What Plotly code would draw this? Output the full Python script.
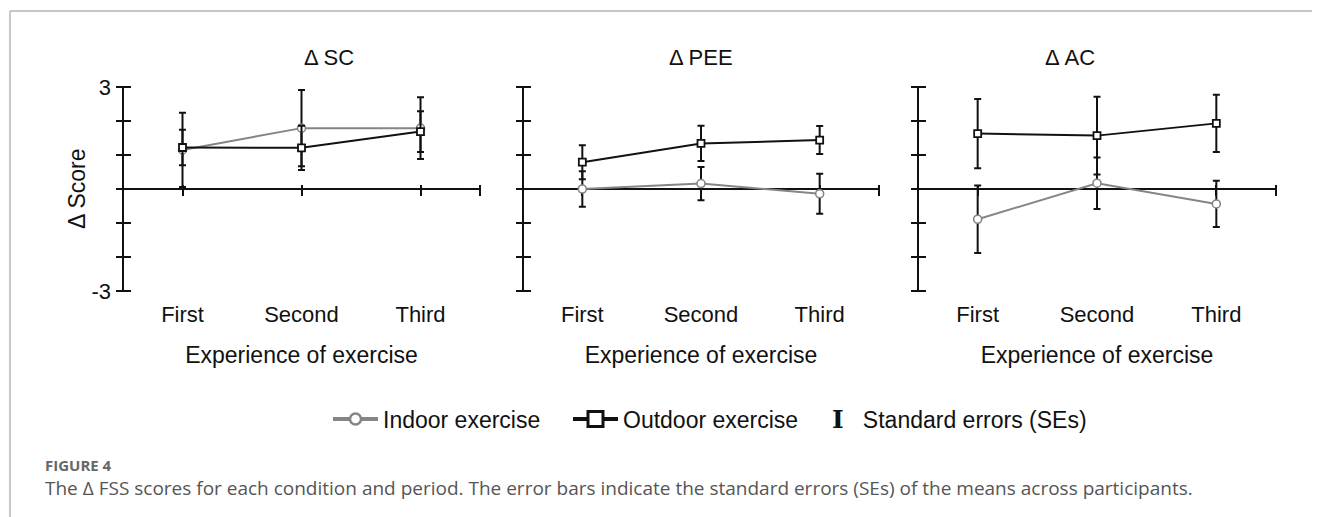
import plotly.graph_objects as go

FONT = "Liberation Sans, Arial, sans-serif"
GRAY = "#858585"
BLACK = "#111111"

categories = ["First", "Second", "Third"]
cat_pos = [0.5, 1.5, 2.5]
panel_titles = ["Δ SC", "Δ PEE", "Δ AC"]

# mean change scores and standard errors
indoor_mean = {
    "SC": [1.15, 1.79, 1.79],
    "PEE": [0.0, 0.16, -0.14],
    "AC": [-0.89, 0.17, -0.44],
}
indoor_se = {
    "SC": [1.09, 1.12, 0.91],
    "PEE": [0.52, 0.49, 0.59],
    "AC": [0.99, 0.76, 0.68],
}
outdoor_mean = {
    "SC": [1.22, 1.21, 1.69],
    "PEE": [0.79, 1.34, 1.44],
    "AC": [1.63, 1.57, 1.93],
}
outdoor_se = {
    "SC": [0.52, 0.65, 0.6],
    "PEE": [0.5, 0.52, 0.41],
    "AC": [1.02, 1.14, 0.84],
}
keys = ["SC", "PEE", "AC"]

y_ticks = [-3, -2, -1, 0, 1, 2, 3]
y_ticktext = ["-3", "", "", "", "", "", "3"]
x_range = [0, 3]
x_ticks = cat_pos + [3]

# the page body has an 8px margin, so the figure is drawn 8px in from the window edge
OFF = 8
FW, FH = 1320 - OFF, 517 - OFF


def px(X):
    return (X - OFF) / FW


def py(Y):
    return 1 - (Y - OFF) / FH


x_domains = [(px(123), px(480)), (px(523), px(879)), (px(918), px(1276))]
y_domain = (py(291), py(87))

fig = go.Figure()
layout = {}


def ax(kind, i):
    return kind if i == 1 else f"{kind}{i}"


for k, key in enumerate(keys):
    xm, xl = 2 * k + 1, 2 * k + 2
    ym = k + 1
    dom = x_domains[k]

    # indoor (grey circles)
    fig.add_trace(go.Scatter(
        x=cat_pos, y=indoor_mean[key], mode="lines+markers",
        name="Indoor exercise", showlegend=False,
        line=dict(color=GRAY, width=2),
        marker=dict(symbol="circle", size=8, color="white", line=dict(color=GRAY, width=1.6)),
        error_y=dict(type="data", array=indoor_se[key], color=BLACK, thickness=2, width=3.5),
        xaxis=ax("x", xm), yaxis=ax("y", ym),
    ))
    # outdoor (black squares)
    fig.add_trace(go.Scatter(
        x=cat_pos, y=outdoor_mean[key], mode="lines+markers",
        name="Outdoor exercise", showlegend=False,
        line=dict(color=BLACK, width=2),
        marker=dict(symbol="square", size=7, color="white", line=dict(color=BLACK, width=1.8)),
        error_y=dict(type="data", array=outdoor_se[key], color=BLACK, thickness=2, width=3.5),
        xaxis=ax("x", xm), yaxis=ax("y", ym),
    ))
    # empty trace so the category-label axis gets drawn
    fig.add_trace(go.Scatter(x=[None], y=[None], showlegend=False, hoverinfo="skip",
                             xaxis=ax("x", xl), yaxis=ax("y", ym)))

    # axis lines come from the zero lines; the ticks sit on axes shifted by half
    # their length so that they cross the lines
    layout["xaxis" + ("" if xm == 1 else str(xm))] = dict(
        domain=dom, range=x_range, showline=False, zeroline=True, zerolinecolor=BLACK,
        zerolinewidth=2, tickvals=x_ticks, showticklabels=False, ticks="outside",
        ticklen=11, tickwidth=2, tickcolor=BLACK, showgrid=False, fixedrange=True,
        anchor="free", position=py(189 - 5.5), layer="below traces",
    )
    layout[f"xaxis{xl}"] = dict(
        range=x_range, showline=False, ticks="", tickvals=cat_pos, ticktext=categories,
        tickfont=dict(size=22, color=BLACK), showgrid=False, zeroline=False,
        anchor="free", position=y_domain[0], overlaying=ax("x", xm),
        ticklabelstandoff=8,
        title=dict(text="Experience of exercise", font=dict(size=23, color=BLACK), standoff=20),
    )

    ymain = dict(
        domain=y_domain, range=[-3, 3], showline=False, zeroline=True, zerolinecolor=BLACK,
        zerolinewidth=2, tickvals=y_ticks, ticks="outside", ticklen=15, tickwidth=2,
        tickcolor=BLACK, showgrid=False, fixedrange=True,
        anchor="free", position=dom[0] + 7.5 / FW, layer="below traces",
    )
    if k == 0:
        ymain.update(ticktext=y_ticktext, tickfont=dict(size=22, color=BLACK))
    else:
        ymain.update(showticklabels=False)
    layout["yaxis" + ("" if ym == 1 else str(ym))] = ymain

    fig.add_annotation(text=panel_titles[k], x=(dom[0] + dom[1]) / 2, y=py(57),
                       xref="paper", yref="paper", yanchor="middle", showarrow=False,
                       font=dict(size=22, color=BLACK))

# y-axis title
fig.add_annotation(text="Δ Score", textangle=-90, x=px(77), y=py(189), xref="paper",
                   yref="paper", xanchor="center", yanchor="middle", showarrow=False,
                   font=dict(size=23, color=BLACK))

# legend-only entries (bigger symbols than in the plot, as in the original key)
fig.add_trace(go.Scatter(
    x=[None], y=[None], mode="lines+markers", name="Indoor exercise", legend="legend",
    line=dict(color=GRAY, width=4),
    marker=dict(symbol="circle", size=11, color="white", line=dict(color=GRAY, width=2.5)),
))
fig.add_trace(go.Scatter(
    x=[None], y=[None], mode="lines+markers", name="Outdoor exercise", legend="legend2",
    line=dict(color=BLACK, width=4),
    marker=dict(symbol="square", size=15, color="white", line=dict(color=BLACK, width=3)),
))
fig.add_trace(go.Scatter(
    x=[None], y=[None], mode="markers", legend="legend3",
    name='<span style="font-family:DejaVu Serif;font-weight:bold;font-size:25px">I</span>'
         '&nbsp;&nbsp;&nbsp;Standard errors (SEs)',
    marker=dict(symbol="circle", size=1, opacity=0, color="white"),
))

legend_common = dict(orientation="h", yanchor="middle", y=py(419), xanchor="left",
                     font=dict(size=23, color=BLACK), bgcolor="rgba(0,0,0,0)")

# caption
fig.add_annotation(text="<b>FIGURE 4</b>", x=px(43), y=py(465), xref="paper", yref="paper",
                   xanchor="left", yanchor="middle", showarrow=False,
                   font=dict(family="Open Sans, sans-serif", size=15, color="#666666"))
fig.add_annotation(
    text="The Δ FSS scores for each condition and period. The error bars indicate the standard "
         "errors (SEs) of the means across participants.",
    x=px(43), y=py(488), xref="paper", yref="paper", xanchor="left", yanchor="middle",
    showarrow=False, font=dict(family="Open Sans, sans-serif", size=19, color="#555555"))

# thin frame lines of the figure panel
fig.add_shape(type="line", xref="paper", yref="paper", x0=px(10), x1=1, y0=py(11),
              y1=py(11), line=dict(color="#b5b5b5", width=1.5))
fig.add_shape(type="line", xref="paper", yref="paper", x0=px(10), x1=px(10), y0=0,
              y1=py(11), line=dict(color="#b5b5b5", width=1.5))

fig.update_layout(
    template="none",
    width=FW, height=FH,
    margin=dict(l=0, r=0, t=0, b=0),
    plot_bgcolor="white", paper_bgcolor="white",
    font=dict(family=FONT, size=22, color=BLACK),
    showlegend=True,
    legend=dict(legend_common, x=px(328), itemwidth=45),
    legend2=dict(legend_common, x=px(568), itemwidth=45),
    legend3=dict(legend_common, x=px(792)),
    **layout,
)

fig.write_html("out.html")
